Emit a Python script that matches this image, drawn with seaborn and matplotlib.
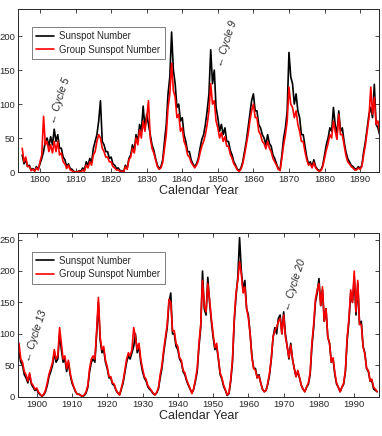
import numpy as np
import pandas as pd
import matplotlib
matplotlib.use("Agg")
import matplotlib.pyplot as plt
import seaborn as sns

# half-year samples
start_top = 1795.0
ssn_top = [
    25, 12, 18, 8, 10, 3, 5, 2, 8, 4,
    12, 20, 30, 45, 50, 38, 52, 40, 63, 45,
    55, 35, 35, 22, 18, 8, 12, 5, 4, 1,
    0, 0, 2, 1, 6, 3, 15, 10, 20, 14,
    35, 45, 55, 75, 105, 45, 40, 30, 30, 20,
    22, 12, 10, 5, 6, 2, 2, 0, 10, 5,
    20, 25, 40, 30, 55, 45, 70, 60, 97, 65,
    85, 70, 55, 40, 32, 20, 10, 5, 8, 18,
    45, 70, 115, 140, 206, 150, 130, 95, 100, 75,
    80, 55, 45, 30, 30, 18, 12, 8, 12, 20,
    35, 48, 55, 70, 90, 115, 180, 130, 150, 95,
    80, 60, 70, 55, 65, 45, 45, 32, 25, 15,
    10, 4, 2, 6, 15, 30, 45, 65, 85, 105,
    115, 90, 90, 70, 65, 55, 50, 40, 55, 42,
    38, 25, 20, 12, 5, 3, 25, 50, 65, 90,
    176, 140, 130, 100, 115, 90, 80, 55, 55, 38,
    22, 12, 15, 8, 18, 8, 4, 2, 3, 10,
    25, 40, 50, 65, 60, 95, 70, 55, 90, 60,
    65, 45, 30, 20, 15, 10, 8, 5, 4, 8,
    5, 10, 30, 45, 65, 85, 95, 80, 129, 70,
    65, 55,
]
gsn_top = [
    35, 15, 22, 8, 8, 2, 4, 1, 6, 3,
    15, 25, 82, 40, 45, 30, 40, 28, 45, 30,
    45, 25, 28, 15, 12, 5, 10, 3, 2, 0,
    0, 0, 1, 0, 3, 1, 10, 6, 15, 10,
    25, 30, 45, 55, 50, 35, 30, 22, 22, 15,
    15, 8, 6, 3, 3, 1, 1, 0, 8, 4,
    18, 22, 35, 28, 50, 40, 62, 50, 75, 60,
    80, 105, 50, 35, 28, 18, 8, 4, 6, 14,
    35, 55, 95, 115, 160, 120, 110, 80, 85, 60,
    65, 45, 38, 25, 22, 14, 10, 6, 10, 16,
    28, 38, 45, 55, 70, 90, 130, 100, 105, 75,
    65, 50, 58, 45, 52, 38, 38, 26, 20, 12,
    8, 3, 1, 4, 12, 25, 40, 55, 75, 90,
    100, 80, 80, 60, 55, 45, 42, 34, 45, 35,
    30, 20, 15, 10, 4, 2, 20, 40, 55, 75,
    125, 100, 95, 80, 90, 70, 60, 45, 45, 30,
    18, 10, 12, 6, 14, 6, 3, 1, 2, 8,
    20, 32, 42, 55, 50, 75, 60, 48, 85, 55,
    55, 40, 25, 15, 12, 8, 6, 3, 3, 6,
    4, 8, 25, 40, 60, 80, 125, 85, 110, 70,
    75, 60,
]

start_bot = 1895.0
ssn_bot = [
    70, 55, 50, 35, 30, 22, 35, 20, 15, 10,
    12, 6, 3, 1, 3, 8, 18, 32, 40, 50,
    70, 55, 60, 100, 75, 55, 60, 40, 55, 35,
    22, 15, 8, 4, 4, 2, 1, 2, 6, 15,
    40, 55, 60, 55, 100, 150, 90, 70, 75, 55,
    45, 30, 30, 20, 18, 10, 6, 3, 12, 22,
    38, 55, 65, 60, 70, 80, 100, 70, 80, 55,
    40, 30, 25, 16, 12, 9, 5, 3, 6, 12,
    30, 45, 70, 90, 110, 150, 165, 100, 100, 80,
    75, 60, 55, 40, 35, 25, 18, 12, 6, 12,
    25, 40, 80, 110, 200, 140, 130, 190, 150, 120,
    95, 75, 80, 60, 35, 28, 16, 10, 2, 5,
    25, 55, 120, 160, 190, 253, 200, 170, 185, 140,
    130, 100, 65, 45, 45, 30, 35, 22, 12, 8,
    10, 20, 35, 60, 95, 110, 100, 125, 130, 100,
    135, 100, 80, 60, 85, 60, 45, 32, 40, 30,
    18, 12, 8, 15, 20, 35, 80, 110, 150, 165,
    188, 145, 170, 120, 140, 95, 85, 55, 60, 35,
    20, 15, 8, 15, 20, 40, 90, 120, 165, 150,
    190, 130, 180, 115, 120, 80, 70, 45, 40, 25,
    25, 12, 10, 8,
]
gsn_bot = [
    85, 60, 55, 40, 35, 25, 38, 22, 18, 12,
    14, 8, 4, 1, 4, 10, 22, 36, 45, 55,
    75, 60, 65, 110, 85, 60, 65, 45, 58, 38,
    25, 16, 9, 4, 4, 2, 1, 3, 8, 18,
    45, 60, 65, 60, 105, 158, 95, 75, 80, 58,
    48, 32, 32, 22, 20, 11, 6, 3, 14, 25,
    42, 60, 70, 65, 75, 110, 95, 75, 85, 60,
    45, 32, 28, 18, 14, 10, 6, 3, 7, 14,
    35, 50, 75, 95, 115, 155, 150, 105, 105, 85,
    80, 62, 58, 42, 38, 27, 20, 13, 5, 13,
    28, 45, 85, 115, 185, 145, 135, 180, 155, 125,
    100, 78, 85, 62, 38, 30, 18, 11, 3, 6,
    28, 60, 125, 165, 185, 215, 195, 165, 175, 140,
    125, 100, 62, 45, 42, 30, 33, 22, 12, 8,
    10, 22, 38, 62, 95, 105, 110, 120, 125, 100,
    130, 95, 80, 62, 82, 60, 45, 32, 42, 30,
    18, 12, 8, 16, 22, 38, 85, 115, 155, 170,
    180, 145, 175, 120, 140, 95, 85, 55, 62, 38,
    22, 15, 8, 15, 22, 42, 95, 125, 170, 150,
    200, 135, 185, 115, 115, 80, 68, 45, 42, 25,
    28, 15, 12, 8,
]

# annotations: label, year, value
notes_top = [("Cycle 5", 1803.4, 71), ("Cycle 9", 1850.4, 155)]
notes_bot = [("Cycle 13", 1897.2, 56), ("Cycle 20", 1970.8, 137)]

sns.set_theme(style="ticks")
plt.rcParams["font.family"] = ["Liberation Sans", "DejaVu Sans"]


def make_df(start, ssn, gsn):
    t = start + 0.5 * np.arange(len(ssn))
    return pd.DataFrame({"year": t, "ssn": ssn, "gsn": gsn})


def draw(ax, df, xlim, ylim, yticks, xticks, notes):
    sns.lineplot(data=df, x="year", y="ssn", color="black", lw=1.2,
                 label="Sunspot Number", ax=ax)
    sns.lineplot(data=df, x="year", y="gsn", color="red", lw=1.2,
                 label="Group Sunspot Number", ax=ax)
    ax.set_xlim(*xlim)
    ax.set_ylim(*ylim)
    ax.set_xticks(xticks)
    ax.set_yticks(yticks)
    ax.tick_params(direction="in", top=True, right=True, labelsize=6.8,
                   length=3, width=0.6, pad=2)
    for s in ax.spines.values():
        s.set_linewidth(0.7)
    ax.set_xlabel("Calendar Year", fontsize=9, labelpad=1)
    ax.set_ylabel("")
    leg = ax.legend(loc="upper left", bbox_to_anchor=(0.033, 0.9),
                    fontsize=6.9, frameon=True, fancybox=False,
                    edgecolor="#444444", handlelength=1.9,
                    borderpad=0.45, labelspacing=0.35, handletextpad=0.5,
                    borderaxespad=0.2)
    leg.get_frame().set_linewidth(0.6)
    for lab, x, y in notes:
        ax.text(x, y, "\u2190 " + lab, rotation=72, rotation_mode="anchor",
                ha="left", va="center", fontsize=7.5, style="italic")


fig = plt.figure(figsize=(3.82, 4.36), dpi=100)
ax1 = fig.add_axes([0.047, 0.6055, 0.945, 0.374])
ax2 = fig.add_axes([0.047, 0.090, 0.945, 0.375])

draw(ax1, make_df(start_top, ssn_top, gsn_top), (1793.8, 1895.3), (0, 240),
     [0, 50, 100, 150, 200], np.arange(1800, 1891, 10), notes_top)
draw(ax2, make_df(start_bot, ssn_bot, gsn_bot), (1894.7, 1997), (0, 260),
     [0, 50, 100, 150, 200, 250], np.arange(1900, 1991, 10), notes_bot)

fig.savefig("out.png", dpi=100)
